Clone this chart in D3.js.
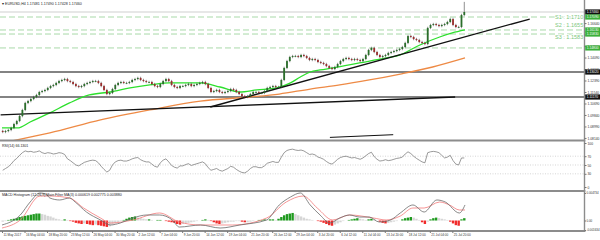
<!DOCTYPE html>
<html>
<head>
<meta charset="utf-8">
<script src="https://cdn.jsdelivr.net/npm/d3@7"></script>
<style>
  body { margin: 0; background: #fff; }
  svg { display: block; font-family: "Liberation Sans", Arial, sans-serif; }
</style>
</head>
<body>
<svg id="chart" width="600" height="240"></svg>
<script>
// ---- data ----
// closes of 8h-grouped H4 candles, first one starts 11 May 12:00
var firstOpen = 1.0866;
var closes = [
  1.0858, 1.0865, 1.0873, 1.0888, 1.0917, 1.0939, 1.0976, 1.1021, 1.1073, 1.1087,
  1.1102, 1.1117, 1.1132, 1.1154, 1.1161, 1.1169, 1.1184, 1.1198, 1.1206, 1.1221,
  1.1235, 1.1243, 1.1250, 1.1235, 1.1228, 1.1213, 1.1198, 1.1191, 1.1198, 1.1213,
  1.1221, 1.1228, 1.1235, 1.1235, 1.1221, 1.1198, 1.1169, 1.1139, 1.1147, 1.1176,
  1.1206, 1.1221, 1.1228, 1.1221, 1.1221, 1.1228, 1.1243, 1.1250, 1.1258, 1.1243,
  1.1235, 1.1228, 1.1228, 1.1213, 1.1198, 1.1191, 1.1213, 1.1235, 1.1250, 1.1235,
  1.1206, 1.1191, 1.1184, 1.1198, 1.1198, 1.1206, 1.1213, 1.1198, 1.1206, 1.1213,
  1.1221, 1.1228, 1.1213, 1.1184, 1.1154, 1.1161, 1.1169, 1.1154, 1.1147, 1.1154,
  1.1161, 1.1176, 1.1169, 1.1154, 1.1139, 1.1124, 1.1117, 1.1124, 1.1139, 1.1154,
  1.1154, 1.1147, 1.1147, 1.1161, 1.1184, 1.1191, 1.1198, 1.1191, 1.1191, 1.1243,
  1.1332, 1.1383, 1.1413, 1.1420, 1.1420, 1.1413, 1.1428, 1.1420, 1.1406, 1.1391,
  1.1398, 1.1391, 1.1376, 1.1369, 1.1361, 1.1346, 1.1332, 1.1324, 1.1339, 1.1361,
  1.1383, 1.1398, 1.1406, 1.1398, 1.1391, 1.1398, 1.1391, 1.1383, 1.1398, 1.1428,
  1.1465, 1.1480, 1.1450, 1.1428, 1.1413, 1.1420, 1.1428, 1.1443, 1.1450, 1.1457,
  1.1465, 1.1472, 1.1487, 1.1517, 1.1568, 1.1561, 1.1546, 1.1539, 1.1524, 1.1517,
  1.1509, 1.1628, 1.1650, 1.1657, 1.1650, 1.1642, 1.1650, 1.1657, 1.1672, 1.1694,
  1.1650, 1.1635, 1.1635, 1.1724, 1.1746
];
var spikeAt = [164];
var spikeHigh = [1.1812];

// moving averages (bar index, price)
var smaFastBars = [0, 11, 20, 34, 48, 62, 77, 91, 105, 119, 141, 155, 169, 181, 195, 205, 212, 219, 226, 235, 254, 273, 283, 290, 297, 311, 320, 329];
var smaFast = [1.0888, 1.0888, 1.0932, 1.0999, 1.1073, 1.1132, 1.1154, 1.1184, 1.1206, 1.1221, 1.1221, 1.1191, 1.1154, 1.1169, 1.1184, 1.1221, 1.1265, 1.1302, 1.1317, 1.1332, 1.1369, 1.1406, 1.1428, 1.1465, 1.1502, 1.1561, 1.1591, 1.1613];
var smaSlowBars = [6, 34, 70, 105, 141, 176, 197, 219, 240, 261, 283, 306, 329];
var smaSlow = [1.0790, 1.0851, 1.0947, 1.1021, 1.1087, 1.1117, 1.1139, 1.1176, 1.1206, 1.1243, 1.1287, 1.1339, 1.1406];

// drawn objects
var trendLines = [
  [[148, 1.1043], [375, 1.1694]],
  [[-1, 1.0984], [322, 1.1117]],
  [[233, 1.0818], [278, 1.0838]]
];
var hLines = [1.1302, 1.1117];
var sLevels = [1.1709, 1.1613, 1.1583, 1.1480];
var sLabels = ["S1 : 1.1710", "S2 : 1.1655", "S3 : 1.1583"];
var sLabelPrices = [1.1710, 1.1646, 1.1560];
var sLabelBar = 393;

var priceTicks = [1.16640, 1.15790, 1.14940, 1.14090, 1.13240, 1.12390, 1.11540, 1.10690, 1.09840, 1.08990, 1.08140];

// RSI(14), one value per candle
var rsi = [
  38, 42, 46, 52, 60, 65, 72, 78, 82, 80, 81, 79, 80, 82,
  78, 76, 78, 77, 75, 76, 78, 77, 74, 64, 60, 55, 50, 48, 52,
  56, 58, 60, 61, 60, 55, 47, 40, 34, 38, 50, 57, 60, 61,
  59, 59, 61, 64, 66, 67, 62, 59, 57, 57, 52, 47, 45, 55, 61, 64,
  57, 49, 45, 43, 48, 48, 51, 53, 49, 51, 53, 55, 57, 53,
  44, 38, 40, 42, 38, 36, 39, 42, 47, 45, 40, 36, 33, 32, 36,
  42, 46, 46, 44, 44, 48, 54, 56, 58, 56, 56, 68, 78, 83, 85, 86,
  84, 83, 84, 82, 78, 74, 75, 73, 68, 66, 63, 58, 54, 52,
  57, 63, 67, 69, 70, 68, 66, 67, 65, 63, 66, 71, 76, 79,
  69, 63, 59, 60, 62, 60, 61, 63, 65,
  66, 68, 75, 80, 76, 70, 65, 61, 57, 55, 78, 80, 81, 80, 78, 72, 66, 68, 72, 60, 52, 50, 66, 66
];
var rsiLevels = [70, 50, 30];

// MACD histogram per candle, in units of 0.0001
var macdHist = [
  -2, -1, 1, 2, 3, 4, 6, 7, 8, 9, 10, 11, 12, 12,
  11, 10, 8, 7, 5, 3, 2, 1, 2, 1,
  -1, -2, -4, -5, -6, -5, -6, -7, -8, -7, -8, -9, -10, -11, -10,
  -7, -5, -3, -1, 1, 3, 5, 6, 7, 5, 4, 3, 2, 2, 1,
  0, 1, 1, 0, -1, -2, -3, -4, -6, -7, -6, -5, -4, -3, -2, -1, 0,
  1, 2, 1, -1, -3, -5, -6, -5, -4, -3, -2, -2, -1, -1, -2, -3, -3, -2,
  -1, 0, 1, 1, 2, 1, 2, 2, 1, 3, 6, 9, 11, 12, 13, 11, 9, 7, 5, 3, 2,
  1, 0, -1, -2, -4, -6, -8, -9, -7, -5, -3, -1, 0, 1, 2, 3, 4, 3, 2, 1, 2, 3,
  2, 0, -2, -4, -5, -4, -3, -2, -1, 0, 2, 4, 5, 6, 5, 3, 1, -3, -6,
  -2, 2, 4, 5, 4, 3, 2, 1, -2, -5, -8, -9, 2, 4
];
var macdMainBars = [0, 13, 20, 27, 31, 34, 41, 48, 52, 60, 70, 77, 84, 93, 103, 112, 121, 126, 141, 155, 169, 188, 197, 205, 212, 219, 226, 233, 240, 247, 254, 261, 268, 276, 283, 292, 300, 309, 315, 325, 329];
var macdMain = [-0.00077, 0.00095, 0.00318, 0.00473, 0.00456, 0.00387, 0.00353, 0.00387, 0.00318, 0.00146, 0.00009, -0.00077, -0.00043, 0.00043, 0.00095, 0.00095, 0.00009, -0.00112, -0.00077, -0.00129, -0.00077, 0.00009, 0.00267, 0.00404, 0.00473, 0.00267, 0.00095, -0.00043, 0.00043, 0.00095, 0.00060, 0.00060, -0.00026, 0.00009, 0.00129, 0.00267, 0.00146, 0.00353, 0.00318, 0.00129, 0.00267];
var macdSignalBars = [0, 13, 27, 34, 48, 58, 70, 77, 93, 112, 126, 141, 164, 188, 202, 214, 224, 235, 247, 264, 273, 283, 292, 300, 311, 318, 325, 329];
var macdSignal = [-0.00129, 0.00009, 0.00421, 0.00421, 0.00387, 0.00215, 0.00043, -0.00043, 0.00009, 0.00129, -0.00026, -0.00077, -0.00077, 0.00043, 0.00318, 0.00421, 0.00215, 0.00009, 0.00095, 0.00043, 0.00009, 0.00077, 0.00215, 0.00215, 0.00318, 0.00267, 0.00181, 0.00181];

var dateBars = [0, 16, 32, 48, 64, 80, 96, 112, 128, 144, 160, 176, 192, 208, 224, 240, 256, 272, 288, 304, 320];
var dateLabels = ["11 May 2017", "16 May 04:00", "18 May 20:00", "23 May 12:00", "26 May 04:00", "30 May 20:00",
  "2 Jun 12:00", "7 Jun 04:00", "9 Jun 20:00", "14 Jun 12:00", "19 Jun 04:00", "21 Jun 20:00", "26 Jun 12:00",
  "29 Jun 04:00", "3 Jul 20:00", "6 Jul 12:00", "11 Jul 04:00", "13 Jul 20:00", "18 Jul 12:00", "21 Jul 04:00", "25 Jul 20:00"];

// ---- drawing ----
var svg = d3.select('#chart');
var right = 584.5;

var x = d3.scaleLinear().domain([0, 329]).range([2, 465]);
var y = d3.scaleLinear().domain([1.08062, 1.1820]).range([139, 2]);
var yRsi = d3.scaleLinear().domain([0, 100]).range([187, 143]);
var yMacd = d3.scaleLinear().domain([-0.00163, 0.0049]).range([230, 192]);

var defs = svg.append('defs');
function clip(id, y0, h) {
  defs.append('clipPath').attr('id', id).append('rect')
    .attr('x', 0).attr('y', y0).attr('width', right).attr('height', h);
}
clip('cMain', 0, 140);
clip('cRsi', 142, 48);
clip('cMacd', 192, 38);

var main = svg.append('g').attr('clip-path', 'url(#cMain)');

// support dashes
main.selectAll('.slev').data(sLevels).enter().append('line')
  .attr('x1', 0).attr('x2', right)
  .attr('y1', function(d) { return y(d); }).attr('y2', function(d) { return y(d); })
  .attr('stroke', '#a9d9a9').attr('stroke-width', 1).attr('stroke-dasharray', '6,3');

// bid line
var last = closes[closes.length - 1];
main.append('line').attr('x1', 0).attr('x2', right)
  .attr('y1', y(last)).attr('y2', y(last))
  .attr('stroke', '#cfcfcf').attr('stroke-width', 1);

// horizontal levels
main.selectAll('.hl').data(hLines).enter().append('line')
  .attr('x1', 0).attr('x2', right)
  .attr('y1', function(d) { return y(d); }).attr('y2', function(d) { return y(d); })
  .attr('stroke', '#5a5a5a').attr('stroke-width', 1.6);

// moving averages
var maLine = function(bars) {
  return d3.line().curve(d3.curveMonotoneX)
    .x(function(d, i) { return x(bars[i]); })
    .y(function(d) { return y(d); });
};
main.append('path').attr('d', maLine(smaSlowBars)(smaSlow))
  .attr('fill', 'none').attr('stroke', '#ee8a45').attr('stroke-width', 1.3);
main.append('path').attr('d', maLine(smaFastBars)(smaFast))
  .attr('fill', 'none').attr('stroke', '#2de02d').attr('stroke-width', 1.3);

// trend lines
main.selectAll('.tl').data(trendLines).enter().append('line')
  .attr('x1', function(d) { return x(d[0][0]); }).attr('y1', function(d) { return y(d[0][1]); })
  .attr('x2', function(d) { return x(d[1][0]); }).attr('y2', function(d) { return y(d[1][1]); })
  .attr('stroke', '#111').attr('stroke-width', function(d, i) { return i === 2 ? 1 : 1.3; });

// candles
var candles = closes.map(function(c, k) {
  var o = k ? closes[k - 1] : firstOpen;
  var s = spikeAt.indexOf(k);
  return { k: k, o: o, c: c, hi: s >= 0 ? spikeHigh[s] : Math.max(o, c) };
});
var cx = function(d) { return x(2 * d.k + 0.5); };
main.append('g').selectAll('line').data(candles).enter().append('line')
  .attr('x1', cx).attr('x2', cx)
  .attr('y1', function(d) { return y(d.hi) - 1.2; })
  .attr('y2', function(d) { return y(Math.min(d.o, d.c)) + 1.2; })
  .attr('stroke', '#444').attr('stroke-width', 0.6);
main.append('g').selectAll('rect').data(candles).enter().append('rect')
  .attr('x', function(d) { return cx(d) - 0.9; })
  .attr('width', 1.8)
  .attr('y', function(d) { return y(Math.max(d.o, d.c)); })
  .attr('height', function(d) { return Math.max(0.8, Math.abs(y(d.o) - y(d.c))); })
  .attr('fill', function(d) { return d.c >= d.o ? '#2b6e2b' : '#9a2e2e'; });

// support labels
main.selectAll('.slab').data(sLabels).enter().append('text')
  .attr('x', x(sLabelBar))
  .attr('y', function(d, i) { return y(sLabelPrices[i]); })
  .attr('dy', '0.35em')
  .attr('font-size', 5.5).attr('fill', '#7cc77c')
  .attr('stroke', '#fff').attr('stroke-width', 1.5).attr('paint-order', 'stroke')
  .text(function(d) { return d; });

// ---- RSI ----
var rsiG = svg.append('g').attr('clip-path', 'url(#cRsi)');
rsiG.selectAll('line').data(rsiLevels).enter().append('line')
  .attr('x1', 0).attr('x2', right)
  .attr('y1', function(d) { return yRsi(d); }).attr('y2', function(d) { return yRsi(d); })
  .attr('stroke', '#bbb').attr('stroke-width', 0.6).attr('stroke-dasharray', '1,1.5');
rsiG.append('path')
  .attr('d', d3.line().x(function(d, i) { return x(2 * i + 0.5); }).y(function(d) { return yRsi(d); })(rsi))
  .attr('fill', 'none').attr('stroke', '#6f6f6f').attr('stroke-width', 0.7);

// ---- MACD ----
var macdG = svg.append('g').attr('clip-path', 'url(#cMacd)');
macdG.selectAll('rect').data(macdHist).enter().append('rect')
  .attr('x', function(d, i) { return x(2 * i + 0.5) - 1.2; })
  .attr('width', 2.4)
  .attr('y', function(d) { return yMacd(Math.max(0, d * 1e-4)); })
  .attr('height', function(d) { return Math.abs(yMacd(d * 1e-4) - yMacd(0)); })
  .attr('fill', function(d, i) {
    var prev = i ? macdHist[i - 1] : d;
    if (d >= prev) return d > 0 ? '#1f9a1f' : '#d6d6d6';
    return d > 0 ? '#d6d6d6' : '#f02a2a';
  });
var macdLine = function(bars) {
  return d3.line().curve(d3.curveMonotoneX)
    .x(function(d, i) { return x(bars[i]); })
    .y(function(d) { return yMacd(d); });
};
macdG.append('path').attr('d', macdLine(macdSignalBars)(macdSignal))
  .attr('fill', 'none').attr('stroke', '#f47a7a').attr('stroke-width', 0.8);
macdG.append('path').attr('d', macdLine(macdMainBars)(macdMain))
  .attr('fill', 'none').attr('stroke', '#6a6a6a').attr('stroke-width', 0.8);

// ---- frames ----
[140.5, 191, 231].forEach(function(v) {
  svg.append('line').attr('x1', 0).attr('x2', right + 0.8).attr('y1', v).attr('y2', v)
    .attr('stroke', '#8c8c8c').attr('stroke-width', 1.8);
});
svg.append('line').attr('x1', right).attr('x2', right).attr('y1', 0).attr('y2', 232)
  .attr('stroke', '#8c8c8c').attr('stroke-width', 1.4);

// ---- axes ----
var axisStyle = function(g, size) {
  g.select('.domain').remove();
  g.selectAll('.tick line').attr('stroke', '#777');
  g.selectAll('.tick text').attr('font-size', size).attr('fill', '#333')
    .attr('font-family', '"Liberation Sans", Arial, sans-serif');
};
svg.append('g').attr('transform', 'translate(' + right + ',0)')
  .call(d3.axisRight(y).tickValues(priceTicks).tickFormat(d3.format('.5f')).tickSize(2).tickPadding(1))
  .call(axisStyle, 3.3);
svg.append('g').attr('transform', 'translate(' + right + ',0)')
  .call(d3.axisRight(yRsi).tickValues([100, 70, 50, 30, 0]).tickSize(2).tickPadding(1))
  .call(axisStyle, 3.3);
svg.append('g').attr('transform', 'translate(' + right + ',0)')
  .call(d3.axisRight(yMacd).tickValues([0.004734, 0, -0.001634])
    .tickFormat(function(d) { return d === 0 ? '0.00' : d.toFixed(6); }).tickSize(1.5).tickPadding(0.5))
  .call(axisStyle, 2.9);

var xAxis = svg.append('g').attr('transform', 'translate(0,231)')
  .call(d3.axisBottom(x).tickValues(dateBars).tickFormat(function(d, i) { return dateLabels[i]; }).tickSize(2))
  .call(axisStyle, 3.1);
xAxis.selectAll('.tick text').attr('text-anchor', 'start').attr('x', 1).attr('y', 2.6);

// price tags on the axis
var tags = [
  { p: last, fill: '#111' },
  { p: sLevels[0], fill: '#3bb03b' }, { p: sLevels[1], fill: '#3bb03b' },
  { p: sLevels[2], fill: '#3bb03b' }, { p: sLevels[3], fill: '#3bb03b' },
  { p: hLines[0], fill: '#111' }, { p: hLines[1], fill: '#111' }
];
var tagG = svg.append('g').selectAll('g').data(tags).enter().append('g')
  .attr('transform', function(d) { return 'translate(' + (right + 0.7) + ',' + y(d.p) + ')'; });
tagG.append('rect').attr('x', 0).attr('y', -2.6).attr('width', 15.5).attr('height', 5.2)
  .attr('fill', function(d) { return d.fill; });
tagG.append('text').attr('x', 1.5).attr('dy', '0.35em').attr('font-size', 3.3).attr('fill', '#fff')
  .text(function(d) { return d.p.toFixed(5); });

// titles
var title = function(ty, txt) {
  svg.append('text').attr('x', 2).attr('y', ty).attr('font-size', 3.6).attr('fill', '#222').text(txt);
};
title(5, '\u25BE EURUSD,H4  1.17481 1.17490 1.17428 1.17460');
title(146.5, 'RSI(14) 66.1301');
title(196, 'MACD Histogram (12,26,9) Main Filter MA(3) 0.000619 0.002775 0.003880');
</script>
</body>
</html>
